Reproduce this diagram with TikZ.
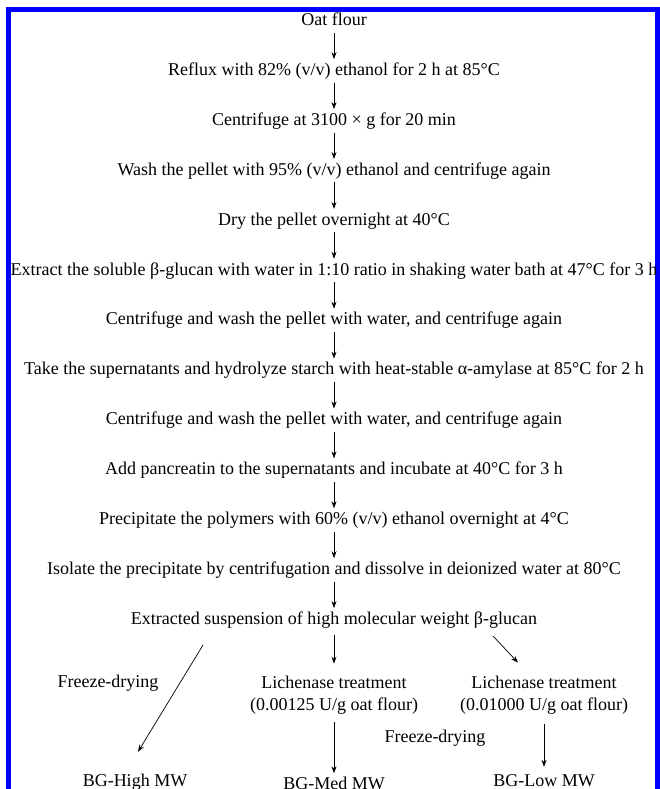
\documentclass[tikz,border=0pt]{standalone}
\usepackage{fontspec}
\setmainfont{Liberation Serif}
\usetikzlibrary{arrows.meta}
\usetikzlibrary{positioning,calc}

\tikzset{
  stepnode/.style={text height=13pt, text depth=4pt, inner xsep=0pt, inner ysep=3pt},
  flow/.style={-{Stealth[length=7pt,width=5pt]}, line width=0.7pt},
}

\begin{document}
\begin{tikzpicture}[every node/.style={font=\fontsize{18}{22}\selectfont}, node distance=26.5pt]
\useasboundingbox (0,0) rectangle (659pt,-789pt);
\draw[blue, line width=5pt] (8.5pt,-795pt) |- (657.5pt,-9.8pt) -- (657.5pt,-795pt);

\node[stepnode] (s0) at (334pt,-21pt) {Oat flour};
\node[stepnode, below=of s0] (s1) {Reflux with 82\% (v/v) ethanol for 2 h at 85°C};
\node[stepnode, below=of s1] (s2) {Centrifuge at 3100 × g for 20 min};
\node[stepnode, below=of s2] (s3) {Wash the pellet with 95\% (v/v) ethanol and centrifuge again};
\node[stepnode, below=of s3] (s4) {Dry the pellet overnight at 40°C};
\node[stepnode, below=of s4] (s5) {Extract the soluble β-glucan with water in 1:10 ratio in shaking water bath at 47°C for 3 h};
\node[stepnode, below=of s5] (s6) {Centrifuge and wash the pellet with water, and centrifuge again};
\node[stepnode, below=of s6] (s7) {Take the supernatants and hydrolyze starch with heat-stable α-amylase at 85°C for 2 h};
\node[stepnode, below=of s7] (s8) {Centrifuge and wash the pellet with water, and centrifuge again};
\node[stepnode, below=of s8] (s9) {Add pancreatin to the supernatants and incubate at 40°C for 3 h};
\node[stepnode, below=of s9] (s10) {Precipitate the polymers with 60\% (v/v) ethanol overnight at 4°C};
\node[stepnode, below=of s10] (s11) {Isolate the precipitate by centrifugation and dissolve in deionized water at 80°C};
\node[stepnode, below=of s11] (s12) {Extracted suspension of high molecular weight β-glucan};

% the three products
\node[stepnode] (fdl) at (108pt,-683pt) {Freeze-drying};
\node[align=center, inner sep=3pt] (lm) at (334pt,-695pt) {Lichenase treatment\\(0.00125 U/g oat flour)};
\node[align=center, inner sep=3pt] (lr) at (544pt,-695pt) {Lichenase treatment\\(0.01000 U/g oat flour)};
\node[stepnode] (fdm) at (435pt,-738pt) {Freeze-drying};
\node[stepnode] (high) at (135pt,-782pt) {BG-High MW};
\node[stepnode] (med) at (334pt,-785pt) {BG-Med MW};
\node[stepnode] (low) at (544pt,-782pt) {BG-Low MW};

\foreach \i [evaluate=\i as \j using int(\i+1)] in {0,...,11}
  \draw[flow] (s\i) -- (s\j);
\draw[flow] ($(s12.south)+(-131pt,-13.5pt)$) -- ($(high.north)+(3pt,18.5pt)$);
\draw[flow, shorten <=3.5pt, shorten >=9pt] (s12) -- (lm);
\draw[flow] ($(s12.south)+(159pt,-4.5pt)$) -- ($(lr.north)+(-26pt,10pt)$);
\draw[flow, shorten <=5pt] (lm) -- (med);
\draw[flow, shorten <=7pt, shorten >=3.5pt] (lr) -- (low);
\end{tikzpicture}
\end{document}
